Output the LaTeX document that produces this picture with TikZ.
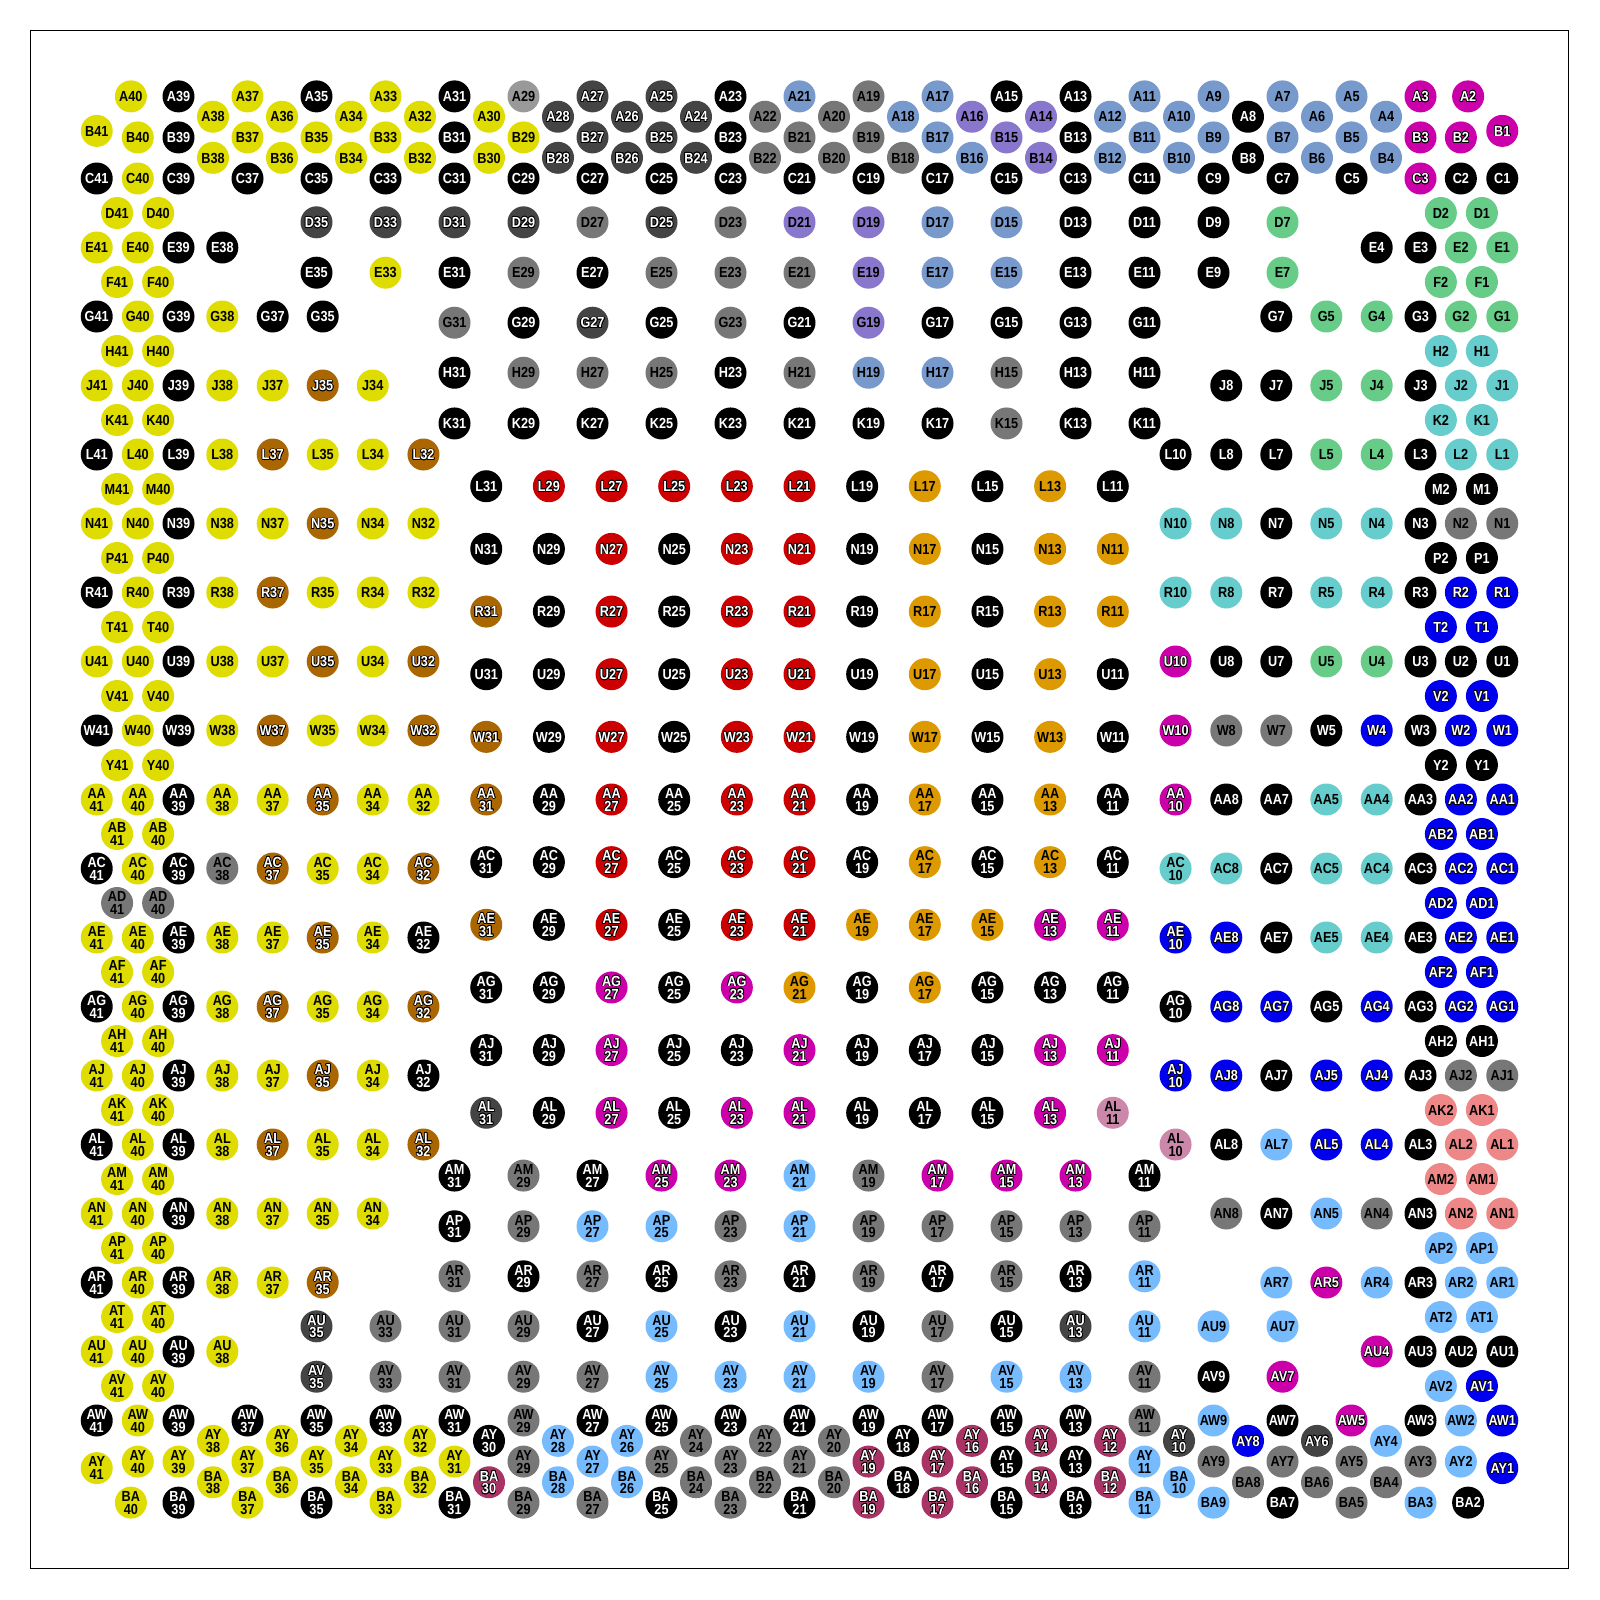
\documentclass[tikz,border=0pt]{standalone}
\usepackage{fontspec}
\usepackage{contour}
\contourlength{0.7pt}
\contournumber{16}
\newfontfamily\pinfont{Liberation Sans}[FakeStretch=0.87]
\makeatletter
\newcommand\defc[4]{\definecolor{f#1}{HTML}{#2}\colorlet{t#1}{#3}%
  \expandafter\def\csname o#1\endcsname##1{#4}}
\makeatother
\defc{K}{000000}{white}{#1}
\defc{Y}{DEDC00}{black}{#1}
\defc{DG}{444444}{white}{\contour{black}{#1}}
\defc{MG}{777777}{black}{#1}
\defc{LG}{999999}{black}{#1}
\defc{SB}{7799CC}{black}{#1}
\defc{PU}{8877CC}{black}{#1}
\defc{MA}{CC00AA}{white}{\contour{black}{#1}}
\defc{GR}{66CC88}{black}{#1}
\defc{TE}{66CCCC}{black}{#1}
\defc{RE}{CC0000}{white}{\contour{black}{#1}}
\defc{OR}{DD9900}{black}{#1}
\defc{BR}{AA6600}{white}{\contour{black}{#1}}
\defc{BL}{0000EE}{white}{\contour{black}{#1}}
\defc{LB}{77BBFF}{black}{#1}
\defc{PK}{EE8888}{black}{#1}
\defc{MR}{AA3366}{white}{\contour{black}{#1}}
\defc{MV}{CC88AA}{black}{#1}
\tikzset{
  bga/.style={circle,minimum size=32pt,inner sep=0pt,draw=none},
  tx/.style={inner sep=0pt,text height=10.4pt,text depth=0pt,font=\pinfont\bfseries\fontsize{14.6}{14}\selectfont},
}
\newcommand\pa[5]{\node[bga,tx,fill=f#5,text=t#5] (#1#2) at ({799.5+34.5*(#3)},{799.5+34.5*(#4)}) {\csname o#5\endcsname{#1#2}};}
\newcommand\pb[5]{\ifnum#2>9\relax
  \node[bga,fill=f#5] (#1#2) at ({799.5+34.5*(#3)},{799.5+34.5*(#4)}) {};
  \node[tx,text=t#5] at ([yshift=6.4pt]#1#2.center) {\csname o#5\endcsname{#1}};
  \node[tx,text=t#5] at ([yshift=-6.4pt]#1#2.center) {\csname o#5\endcsname{#2}};
  \else\pa{#1}{#2}{#3}{#4}{#5}\fi}
% standard columns: u = 21-n
\newcommand\srow[4]{\foreach \n/\c in {#4}{#1{#2}{\n}{21-\n}{#3}{\c}}}
% explicit positions
\newcommand\prow[4]{\foreach \n/\u/\c in {#4}{#1{#2}{\n}{\u}{#3}{\c}}}
% core grid
\newcommand\core[4]{\foreach \n/\c in {#4}{#1{#2}{\n}{-9.08+0.908*(31-\n)}{#3}{\c}}}
% left edge full rows
\newcommand\lrow[7]{#1{#2}{41}{-20.37}{#3}{#4}#1{#2}{40}{-19.18}{#3}{#5}#1{#2}{39}{-18}{#3}{#6}\prow#1{#2}{#3}{#7}}
% right edge full rows
\newcommand\rrow[7]{#1{#2}{3}{18}{#3}{#4}#1{#2}{2}{19.17}{#3}{#5}#1{#2}{1}{20.37}{#3}{#6}\prow#1{#2}{#3}{#7}}
\begin{document}
\begin{tikzpicture}[x=1pt,y=-1pt]
\useasboundingbox (0,0) rectangle (1600,1600);
\draw[line width=1.5pt] (30.6,30.6) rectangle (1568.4,1568.4);
% ---------- top rows
\srow\pa{A}{-20.38}{39/K,37/Y,35/K,33/Y,31/K,29/LG,27/DG,25/DG,23/K,21/SB,19/MG,17/SB,15/K,13/K,11/SB,9/SB,7/SB,5/SB,3/MA}
\prow\pa{A}{-20.38}{40/-19.38/Y,2/19.38/MA}
\srow\pa{A}{-19.79}{38/Y,36/Y,34/Y,32/Y,30/Y,28/DG,26/DG,24/DG,22/MG,20/MG,18/SB,16/PU,14/PU,12/SB,10/SB,8/K,6/SB,4/SB}
\srow\pa{B}{-19.19}{39/K,37/Y,35/Y,33/Y,31/K,29/Y,27/DG,25/DG,23/K,21/MG,19/MG,17/SB,15/PU,13/K,11/SB,9/SB,7/SB,5/SB,3/MA}
\prow\pa{B}{-19.19}{40/-19.18/Y,2/19.17/MA}
\prow\pa{B}{-19.38}{41/-20.37/Y,1/20.37/MA}
\srow\pa{B}{-18.6}{38/Y,36/Y,34/Y,32/Y,30/Y,28/DG,26/DG,24/DG,22/MG,20/MG,18/MG,16/SB,14/PU,12/SB,10/SB,8/K,6/SB,4/SB}
\srow\pa{C}{-18}{39/K,37/K,35/K,33/K,31/K,29/K,27/K,25/K,23/K,21/K,19/K,17/K,15/K,13/K,11/K,9/K,7/K,5/K,3/MA}
\prow\pa{C}{-18}{41/-20.37/K,40/-19.18/Y,2/19.17/K,1/20.37/K}
% ---------- top band
\srow\pa{D}{-16.73}{35/DG,33/DG,31/DG,29/DG,27/MG,25/DG,23/MG,21/PU,19/PU,17/SB,15/SB,13/K,11/K,9/K,7/GR}
\srow\pa{E}{-15.27}{35/K,33/Y,31/K,29/MG,27/K,25/MG,23/MG,21/MG,19/PU,17/SB,15/SB,13/K,11/K,9/K,7/GR}
\srow\pa{G}{-13.82}{31/MG,29/K,27/DG,25/K,23/MG,21/K,19/PU,17/K,15/K,13/K,11/K}
\srow\pa{H}{-12.37}{31/K,29/MG,27/MG,25/MG,23/K,21/MG,19/SB,17/SB,15/MG,13/K,11/K}
\srow\pa{K}{-10.9}{31/K,29/K,27/K,25/K,23/K,21/K,19/K,17/K,15/MG,13/K,11/K}
% ---------- left edge and band
\lrow\pa{E}{-16}{Y}{Y}{K}{38/-16.73/K}
\lrow\pa{G}{-14}{K}{Y}{K}{38/-16.73/Y,37/-15.27/K,35/-13.82/K}
\lrow\pa{J}{-12}{Y}{Y}{K}{38/-16.73/Y,37/-15.27/Y,35/-13.82/BR,34/-12.37/Y}
\lrow\pa{L}{-10}{K}{Y}{K}{38/-16.73/Y,37/-15.27/BR,35/-13.82/Y,34/-12.37/Y,32/-10.9/BR}
\lrow\pa{N}{-8}{Y}{Y}{K}{38/-16.73/Y,37/-15.27/Y,35/-13.82/BR,34/-12.37/Y,32/-10.9/Y}
\lrow\pa{R}{-6}{K}{Y}{K}{38/-16.73/Y,37/-15.27/BR,35/-13.82/Y,34/-12.37/Y,32/-10.9/Y}
\lrow\pa{U}{-4}{Y}{Y}{K}{38/-16.73/Y,37/-15.27/Y,35/-13.82/BR,34/-12.37/Y,32/-10.9/BR}
\lrow\pa{W}{-2}{K}{Y}{K}{38/-16.73/Y,37/-15.27/BR,35/-13.82/Y,34/-12.37/Y,32/-10.9/BR}
\lrow\pb{AA}{0}{Y}{Y}{K}{38/-16.73/Y,37/-15.27/Y,35/-13.82/BR,34/-12.37/Y,32/-10.9/Y}
\lrow\pb{AC}{2}{K}{Y}{K}{38/-16.73/MG,37/-15.27/BR,35/-13.82/Y,34/-12.37/Y,32/-10.9/BR}
\lrow\pb{AE}{4}{Y}{Y}{K}{38/-16.73/Y,37/-15.27/Y,35/-13.82/BR,34/-12.37/Y,32/-10.9/K}
\lrow\pb{AG}{6}{K}{Y}{K}{38/-16.73/Y,37/-15.27/BR,35/-13.82/Y,34/-12.37/Y,32/-10.9/BR}
\lrow\pb{AJ}{8}{Y}{Y}{K}{38/-16.73/Y,37/-15.27/Y,35/-13.82/BR,34/-12.37/Y,32/-10.9/K}
\lrow\pb{AL}{10}{K}{Y}{K}{38/-16.73/Y,37/-15.27/BR,35/-13.82/Y,34/-12.37/Y,32/-10.9/BR}
\lrow\pb{AN}{12}{Y}{Y}{K}{38/-16.73/Y,37/-15.27/Y,35/-13.82/Y,34/-12.37/Y}
\lrow\pb{AR}{14}{K}{Y}{K}{38/-16.73/Y,37/-15.27/Y,35/-13.82/BR}
\lrow\pb{AU}{16}{Y}{Y}{K}{38/-16.73/Y}
\foreach \r/\v in {D/-17,F/-15,H/-13,K/-11,M/-9,P/-7,T/-5,V/-3,Y/-1}{\pa{\r}{41}{-19.78}{\v}{Y}\pa{\r}{40}{-18.59}{\v}{Y}}
\foreach \r/\v/\c in {AB/1/Y,AD/3/MG,AF/5/Y,AH/7/Y,AK/9/Y,AM/11/Y,AP/13/Y,AT/15/Y,AV/17/Y}{\pb{\r}{41}{-19.78}{\v}{\c}\pb{\r}{40}{-18.59}{\v}{\c}}
% ---------- right edge and band
\foreach \r/\v/\c in {D/-17/GR,F/-15/GR,H/-13/TE,K/-11/TE,M/-9/K,P/-7/K,T/-5/BL,V/-3/BL,Y/-1/K}{\pa{\r}{2}{18.59}{\v}{\c}\pa{\r}{1}{19.78}{\v}{\c}}
\foreach \r/\v/\c/\d in {AB/1/BL/BL,AD/3/BL/BL,AF/5/BL/BL,AH/7/K/K,AK/9/PK/PK,AM/11/PK/PK,AP/13/LB/LB,AT/15/LB/LB,AV/17/LB/BL}{\pb{\r}{2}{18.59}{\v}{\c}\pb{\r}{1}{19.78}{\v}{\d}}
\rrow\pa{E}{-16}{K}{GR}{GR}{4/16.73/K}
\rrow\pa{G}{-14}{K}{GR}{GR}{7/13.82/K,5/15.27/GR,4/16.73/GR}
\rrow\pa{J}{-12}{K}{TE}{TE}{8/12.37/K,7/13.82/K,5/15.27/GR,4/16.73/GR}
\rrow\pa{L}{-10}{K}{TE}{TE}{10/10.9/K,8/12.37/K,7/13.82/K,5/15.27/GR,4/16.73/GR}
\rrow\pa{N}{-8}{K}{MG}{MG}{10/10.9/TE,8/12.37/TE,7/13.82/K,5/15.27/TE,4/16.73/TE}
\rrow\pa{R}{-6}{K}{BL}{BL}{10/10.9/TE,8/12.37/TE,7/13.82/K,5/15.27/TE,4/16.73/TE}
\rrow\pa{U}{-4}{K}{K}{K}{10/10.9/MA,8/12.37/K,7/13.82/K,5/15.27/GR,4/16.73/GR}
\rrow\pa{W}{-2}{K}{BL}{BL}{10/10.9/MA,8/12.37/MG,7/13.82/MG,5/15.27/K,4/16.73/BL}
\rrow\pb{AA}{0}{K}{BL}{BL}{10/10.9/MA,8/12.37/K,7/13.82/K,5/15.27/TE,4/16.73/TE}
\rrow\pb{AC}{2}{K}{BL}{BL}{10/10.9/TE,8/12.37/TE,7/13.82/K,5/15.27/TE,4/16.73/TE}
\rrow\pb{AE}{4}{K}{BL}{BL}{10/10.9/BL,8/12.37/BL,7/13.82/K,5/15.27/TE,4/16.73/TE}
\rrow\pb{AG}{6}{K}{BL}{BL}{10/10.9/K,8/12.37/BL,7/13.82/BL,5/15.27/K,4/16.73/BL}
\rrow\pb{AJ}{8}{K}{MG}{MG}{10/10.9/BL,8/12.37/BL,7/13.82/K,5/15.27/BL,4/16.73/BL}
\rrow\pb{AL}{10}{K}{PK}{PK}{10/10.9/MV,8/12.37/K,7/13.82/LB,5/15.27/BL,4/16.73/BL}
\rrow\pb{AN}{12}{K}{PK}{PK}{8/12.37/MG,7/13.82/K,5/15.27/LB,4/16.73/MG}
\rrow\pb{AR}{14}{K}{LB}{LB}{7/13.82/LB,5/15.27/MA,4/16.73/LB}
\rrow\pb{AU}{16}{K}{K}{K}{4/16.73/MA}
% ---------- core
\core\pa{L}{-9.08}{31/K,29/RE,27/RE,25/RE,23/RE,21/RE,19/K,17/OR,15/K,13/OR,11/K}
\core\pa{N}{-7.264}{31/K,29/K,27/RE,25/K,23/RE,21/RE,19/K,17/OR,15/K,13/OR,11/OR}
\core\pa{R}{-5.448}{31/BR,29/K,27/RE,25/K,23/RE,21/RE,19/K,17/OR,15/K,13/OR,11/OR}
\core\pa{U}{-3.632}{31/K,29/K,27/RE,25/K,23/RE,21/RE,19/K,17/OR,15/K,13/OR,11/K}
\core\pa{W}{-1.816}{31/BR,29/K,27/RE,25/K,23/RE,21/RE,19/K,17/OR,15/K,13/OR,11/K}
\core\pb{AA}{0}{31/BR,29/K,27/RE,25/K,23/RE,21/RE,19/K,17/OR,15/K,13/OR,11/K}
\core\pb{AC}{1.816}{31/K,29/K,27/RE,25/K,23/RE,21/RE,19/K,17/OR,15/K,13/OR,11/K}
\core\pb{AE}{3.632}{31/BR,29/K,27/RE,25/K,23/RE,21/RE,19/OR,17/OR,15/OR,13/MA,11/MA}
\core\pb{AG}{5.448}{31/K,29/K,27/MA,25/K,23/MA,21/OR,19/K,17/OR,15/K,13/K,11/K}
\core\pb{AJ}{7.264}{31/K,29/K,27/MA,25/K,23/K,21/MA,19/K,17/K,15/K,13/MA,11/MA}
\core\pb{AL}{9.08}{31/DG,29/K,27/MA,25/K,23/MA,21/MA,19/K,17/K,15/K,13/MA,11/MV}
% ---------- bottom band
\srow\pb{AM}{10.9}{31/K,29/MG,27/K,25/MA,23/MA,21/LB,19/MG,17/MA,15/MA,13/MA,11/K}
\srow\pb{AP}{12.37}{31/K,29/MG,27/LB,25/LB,23/MG,21/LB,19/MG,17/MG,15/MG,13/MG,11/MG}
\srow\pb{AR}{13.82}{31/MG,29/K,27/MG,25/K,23/MG,21/K,19/MG,17/K,15/MG,13/K,11/LB}
\srow\pb{AU}{15.27}{35/DG,33/MG,31/MG,29/MG,27/K,25/LB,23/K,21/LB,19/K,17/MG,15/K,13/DG,11/LB,9/LB,7/LB}
\srow\pb{AV}{16.73}{35/DG,33/MG,31/MG,29/MG,27/MG,25/LB,23/LB,21/LB,19/LB,17/MG,15/LB,13/LB,11/MG,9/K,7/MA}
% ---------- bottom rows
\srow\pb{AW}{18}{39/K,37/K,35/K,33/K,31/K,29/MG,27/K,25/K,23/K,21/K,19/K,17/K,15/K,13/K,11/MG,9/LB,7/K,5/MA,3/K}
\prow\pb{AW}{18}{41/-20.37/K,40/-19.18/Y,2/19.17/LB,1/20.37/BL}
\srow\pb{AY}{18.59}{38/Y,36/Y,34/Y,32/Y,30/K,28/LB,26/LB,24/MG,22/MG,20/MG,18/K,16/MR,14/MR,12/MR,10/DG,8/BL,6/DG,4/LB}
\srow\pb{AY}{19.19}{39/Y,37/Y,35/Y,33/Y,31/Y,29/MG,27/LB,25/MG,23/MG,21/MG,19/MR,17/MR,15/K,13/K,11/LB,9/MG,7/MG,5/MG,3/MG}
\prow\pb{AY}{19.19}{40/-19.18/Y,2/19.17/LB}
\prow\pb{AY}{19.38}{41/-20.37/Y,1/20.37/BL}
\srow\pb{BA}{19.79}{38/Y,36/Y,34/Y,32/Y,30/MR,28/LB,26/LB,24/MG,22/MG,20/MG,18/K,16/MR,14/MR,12/MR,10/LB,8/MG,6/MG,4/MG}
\srow\pb{BA}{20.38}{39/K,37/Y,35/K,33/Y,31/K,29/MG,27/MG,25/K,23/MG,21/K,19/MR,17/MR,15/K,13/K,11/LB,9/LB,7/K,5/MG,3/LB}
\prow\pb{BA}{20.38}{40/-19.38/Y,2/19.38/K}
\end{tikzpicture}
\end{document}
